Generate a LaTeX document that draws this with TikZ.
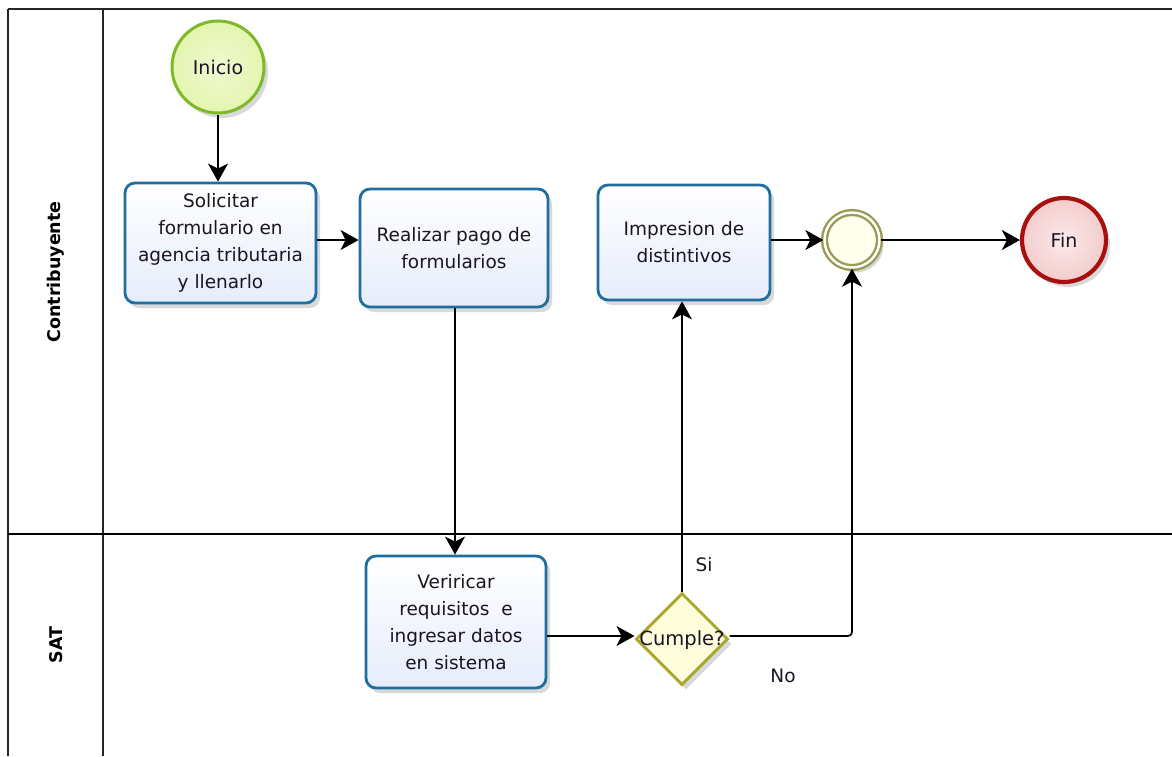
\documentclass[tikz,border=0pt]{standalone}
\usepackage{fontspec}
\setmainfont{DejaVu Sans}
\usetikzlibrary{shapes.geometric,arrows.meta,shadows}
\definecolor{taskblue}{HTML}{1F6E9E}
\definecolor{taskfill}{HTML}{E6ECFB}
\definecolor{startgreen}{HTML}{7DB928}
\definecolor{startfill}{HTML}{E4F5B0}
\definecolor{endred}{HTML}{A81010}
\definecolor{endfill}{HTML}{F4CCCC}
\definecolor{midolive}{HTML}{9C9A58}
\definecolor{gateolive}{HTML}{ABA832}
\definecolor{gatefill}{HTML}{FEFEDC}
\definecolor{txt}{HTML}{1C1424}
\tikzset{
  sh/.style={drop shadow={shadow xshift=4pt, shadow yshift=-5pt, opacity=0.25, fill=black!60}},
  task/.style={draw=taskblue, line width=2.8pt, rounded corners=10pt, top color=white, bottom color=taskfill,
    align=center, inner sep=0pt, text=txt, font=\fontsize{18.5}{27}\selectfont, sh},
  startev/.style={circle, draw=startgreen, line width=3pt, inner color=startfill!60, outer color=startfill,
    minimum size=92pt, inner sep=0pt, text=txt, font=\fontsize{19}{22}\selectfont, sh},
  endev/.style={circle, draw=endred, line width=4.2pt, inner color=endfill!40, outer color=endfill,
    minimum size=84pt, inner sep=0pt, text=txt, font=\fontsize{19}{22}\selectfont, sh},
  midev/.style={circle, draw=midolive, line width=2.4pt, double=white, double distance=2.4pt, fill=gatefill!50,
    minimum size=55pt, inner sep=0pt, sh},
  gate/.style={diamond, aspect=1, draw=gateolive, line width=3pt, fill=gatefill, minimum size=92pt,
    inner sep=0pt, sh},
  gatetext/.style={text=txt, font=\fontsize{19.5}{22}\selectfont, inner sep=0pt},
  conn/.style={-{Stealth[length=18pt,width=20pt,inset=5pt]}, line width=1.7pt, black},
  lanelbl/.style={rotate=90, font=\bfseries\fontsize{17.5}{20}\selectfont, text=black},
  flowlbl/.style={font=\fontsize{18.5}{22}\selectfont, text=txt},
  frame/.style={line width=1.8pt, black!85}
}
\begin{document}
\begin{tikzpicture}[x=1pt,y=-1pt]
\useasboundingbox (0,0) rectangle (1172,756);
% pool frame
\draw[frame] (8,9) -- (1172,9);
\draw[frame] (8,9) -- (8,756);
\draw[frame] (103,9) -- (103,756);
\draw[line width=2.6pt] (8,534) -- (1172,534);
\node[lanelbl] (lane1) at (56,272) {Contribuyente};
\node[lanelbl] (lane2) at (56,645) {SAT};
% nodes
\node[startev] (ini) at (218,67) {Inicio};
\node[task, minimum width=191pt, minimum height=120pt] (sol) at (220.5,243) {Solicitar\\formulario en\\agencia tributaria\\y llenarlo};
\node[task, minimum width=188pt, minimum height=118pt] (pag) at (454,248) {Realizar pago de\\formularios};
\node[task, minimum width=172pt, minimum height=115pt] (imp) at (684,242.5) {Impresion de\\distintivos};
\node[midev] (mid) at (852,240) {};
\node[endev] (fin) at (1064,240) {Fin};
\node[task, minimum width=180pt, minimum height=132pt] (ver) at (456,622) {Veriricar\\requisitos \ e\\ingresar datos\\en sistema};
\node[gate] (cum) at (682,639) {};
\node[gatetext] (cumtxt) at (682,640) {Cumple?};
% connectors
\draw[conn] (ini.south) -- (ini.south |- sol.north);
\draw[conn] (sol.east |- 0,240) -- (pag.west |- 0,240);
\draw[conn] (pag.south -| 455,0) -- (ver.north -| 455,0);
\draw[conn] (ver.east |- 0,636) -- (cum.west |- 0,636);
\draw[conn] (cum.north) -- (imp.south -| cum.north);
\draw[conn, rounded corners=4pt] (cum.east |- 0,636) -| (mid.south);
\draw[conn] (imp.east |- mid.west) -- (mid.west);
\draw[conn] (mid.east) -- (fin.west);
\node[flowlbl] (si) at (704,565) {Si};
\node[flowlbl] (no) at (783,676) {No};
\end{tikzpicture}
\end{document}
